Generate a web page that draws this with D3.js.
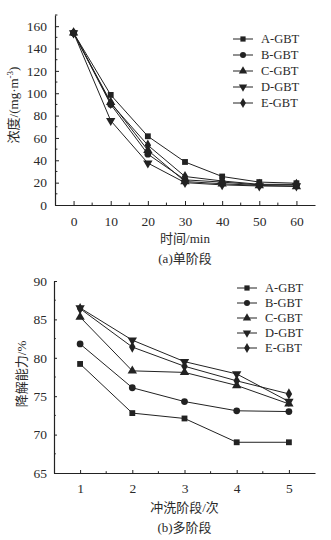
<!DOCTYPE html>
<html>
<head>
<meta charset="utf-8">
<script src="https://cdn.jsdelivr.net/npm/d3@7"></script>
<style>
    body { margin: 0; background: #fff; }
    text { font-family: "Liberation Serif", "Noto Sans CJK SC", serif; fill: #2a2a2a; }
</style>
</head>
<body>
<script>
// series names, shared by both panels
var seriesNames = ["A-GBT", "B-GBT", "C-GBT", "D-GBT", "E-GBT"];

// (a) single stage: concentration vs time
var timeMin = [0, 10, 20, 30, 40, 50, 60];
var concA = [154, 98.5, 61.5, 38.5, 25.5, 20.5, 19.5];
var concB = [154, 90, 45.5, 22.5, 20.5, 18, 18];
var concC = [154, 92, 49, 21, 19, 17.5, 16.5];
var concD = [154, 75.5, 37.5, 20, 18, 17, 17];
var concE = [154, 91, 53.5, 25.5, 21.5, 18.5, 18.5];
var yTicksA = [0, 20, 40, 60, 80, 100, 120, 140, 160];

// (b) multi stage: degradation vs wash stage
var stage = [1, 2, 3, 4, 5];
var degA = [79.2, 72.8, 72.1, 69.0, 69.0];
var degB = [81.8, 76.1, 74.3, 73.1, 73.0];
var degC = [85.3, 78.3, 78.1, 76.4, 74.0];
var degD = [86.5, 82.3, 79.5, 77.9, 74.3];
var degE = [86.4, 81.4, 78.9, 77.0, 75.3];
var yTicksB = [65, 70, 75, 80, 85, 90];

var svg = d3.select("body").append("svg")
    .attr("width", 331)
    .attr("height", 540);

var ink = "#222";
var symbols = [
    {type: d3.symbolSquare, size: 34, rot: 0},
    {type: d3.symbolCircle, size: 36, rot: 0},
    {type: d3.symbolTriangle, size: 38, rot: 0},
    {type: d3.symbolTriangle, size: 38, rot: 180},
    {type: d3.symbolDiamond, size: 36, rot: 0}
];

function drawPanel(p) {
    var x = d3.scaleLinear().domain(p.xDomain).range([p.left, p.right]);
    var y = d3.scaleLinear().domain(p.yDomain).range([p.bottom, p.top]);
    var g = svg.append("g");

    // axes with inward ticks
    var xAxis = d3.axisBottom(x).tickValues(p.xTicks)
        .tickFormat(d3.format("d"))
        .tickSizeInner(-p.tick).tickSizeOuter(0).tickPadding(p.tick + 7);
    var yAxis = d3.axisLeft(y).tickValues(p.yTicks)
        .tickFormat(d3.format("d"))
        .tickSizeInner(-p.tick).tickSizeOuter(0).tickPadding(p.tick + 4);

    var gx = g.append("g")
        .attr("transform", "translate(0," + p.bottom + ")")
        .call(xAxis);
    var gy = g.append("g")
        .attr("transform", "translate(" + p.left + ",0)")
        .call(yAxis);
    [gx, gy].forEach(function(a) {
        a.select(".domain").attr("stroke", ink).attr("stroke-width", 1.2);
        a.selectAll(".tick line").attr("stroke", ink);
        a.selectAll("text").attr("font-size", 13.5)
            .attr("fill", "#2a2a2a")
            .attr("font-family", "Liberation Serif, serif");
    });

    // minor ticks
    g.selectAll(".mx").data(p.xMinor).enter().append("line")
        .attr("x1", function(d) { return x(d); })
        .attr("x2", function(d) { return x(d); })
        .attr("y1", p.bottom).attr("y2", p.bottom - p.tick * 0.6)
        .attr("stroke", ink);
    g.selectAll(".my").data(p.yMinor).enter().append("line")
        .attr("y1", function(d) { return y(d); })
        .attr("y2", function(d) { return y(d); })
        .attr("x1", p.left).attr("x2", p.left + p.tick * 0.6)
        .attr("stroke", ink);

    var line = d3.line()
        .x(function(d) { return x(d[0]); })
        .y(function(d) { return y(d[1]); });

    p.series.forEach(function(vals, i) {
        var pts = p.xs.map(function(v, j) { return [v, vals[j]]; });
        g.append("path").datum(pts)
            .attr("d", line)
            .attr("fill", "none")
            .attr("stroke", ink)
            .attr("stroke-width", 1);
        var sym = d3.symbol().type(symbols[i].type).size(symbols[i].size);
        g.selectAll(".s" + i).data(pts).enter().append("path")
            .attr("d", sym)
            .attr("fill", ink)
            .attr("transform", function(d) {
                return "translate(" + x(d[0]) + "," + y(d[1]) + ")"
                    + " rotate(" + symbols[i].rot + ")";
            });
    });

    // legend
    seriesNames.forEach(function(name, i) {
        var ly = p.legY + i * p.legStep;
        g.append("line")
            .attr("x1", p.legX).attr("x2", p.legX + 20)
            .attr("y1", ly).attr("y2", ly)
            .attr("stroke", ink);
        g.append("path")
            .attr("d", d3.symbol().type(symbols[i].type)
                .size(symbols[i].size * 0.8))
            .attr("fill", ink)
            .attr("transform", "translate(" + (p.legX + 10) + "," + ly
                + ") rotate(" + symbols[i].rot + ")");
        g.append("text")
            .attr("x", p.legX + 28).attr("y", ly)
            .attr("dy", "0.35em")
            .attr("font-size", 12.5)
            .text(name);
    });

    // axis titles and caption
    g.append("text")
        .attr("x", (p.left + p.right) / 2).attr("y", p.xTitleY)
        .attr("text-anchor", "middle").attr("font-size", 13)
        .text(p.xTitle);
    g.append("text")
        .attr("x", (p.left + p.right) / 2).attr("y", p.capY)
        .attr("text-anchor", "middle").attr("font-size", 13)
        .text(p.caption);
    var yt = g.append("text")
        .attr("transform", "translate(" + p.yTitleX + ","
            + p.yTitleMid + ") rotate(-90)")
        .attr("text-anchor", "middle").attr("font-size", 13);
    p.yTitle(yt);
}

drawPanel({
    left: 55, right: 315, top: 15, bottom: 205,
    xDomain: [-5, 65], yDomain: [0, 170],
    xTicks: timeMin, yTicks: yTicksA,
    xMinor: [5, 15, 25, 35, 45, 55],
    yMinor: [10, 30, 50, 70, 90, 110, 130, 150, 170],
    tick: 4,
    xs: timeMin,
    series: [concA, concB, concC, concD, concE],
    legX: 233, legY: 39, legStep: 16,
    xTitle: "时间/min", xTitleY: 243,
    caption: "(a)单阶段", capY: 263,
    yTitleX: 18, yTitleMid: 105,
    yTitle: function(t) {
        t.append("tspan").text("浓度/(mg·m");
        t.append("tspan").attr("baseline-shift", "super")
            .attr("font-size", 9).text("-3");
        t.append("tspan").text(")");
    }
});

drawPanel({
    left: 54, right: 315, top: 281, bottom: 473,
    xDomain: [0.5, 5.5], yDomain: [65, 90],
    xTicks: stage, yTicks: yTicksB,
    xMinor: [1.5, 2.5, 3.5, 4.5],
    yMinor: [67.5, 72.5, 77.5, 82.5, 87.5],
    tick: 3,
    xs: stage,
    series: [degA, degB, degC, degD, degE],
    legX: 237, legY: 288, legStep: 15,
    xTitle: "冲洗阶段/次", xTitleY: 512,
    caption: "(b)多阶段", capY: 532,
    yTitleX: 26, yTitleMid: 374,
    yTitle: function(t) { t.text("降解能力/%"); }
});
</script>
</body>
</html>
